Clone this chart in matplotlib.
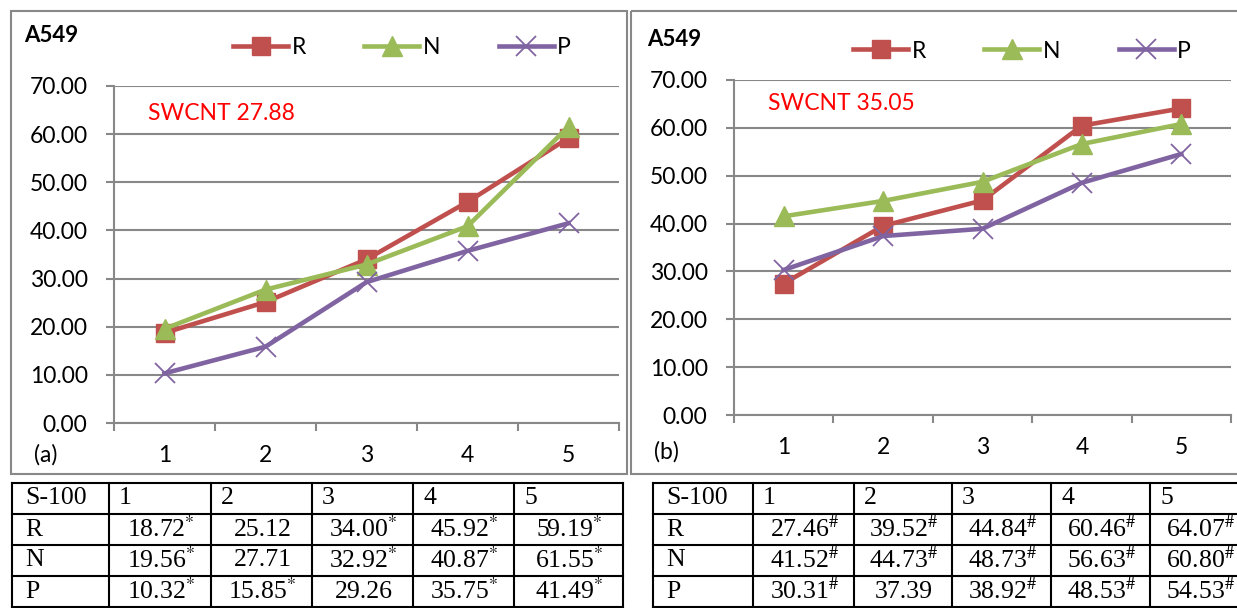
import matplotlib
matplotlib.use("Agg")
import matplotlib.pyplot as plt
from matplotlib.patches import Rectangle

plt.rcParams["font.family"] = ["Lato", "DejaVu Sans"]
plt.rcParams["mathtext.fontset"] = "stix"

# data
groups = ["1", "2", "3", "4", "5"]
series = ["R", "N", "P"]

a_R = [18.72, 25.12, 34.00, 45.92, 59.19]
a_N = [19.56, 27.71, 32.92, 40.87, 61.55]
a_P = [10.32, 15.85, 29.26, 35.75, 41.49]
a_R_sig = [1, 0, 1, 1, 1]
a_N_sig = [1, 0, 1, 1, 1]
a_P_sig = [1, 1, 0, 1, 1]

b_R = [27.46, 39.52, 44.84, 60.46, 64.07]
b_N = [41.52, 44.73, 48.73, 56.63, 60.80]
b_P = [30.31, 37.39, 38.92, 48.53, 54.53]
b_R_sig = [1, 1, 1, 1, 1]
b_N_sig = [1, 1, 1, 1, 1]
b_P_sig = [1, 0, 1, 1, 1]

swcnt_a = 27.88
swcnt_b = 35.05

colors = {"R": "#C0504D", "N": "#9BBB59", "P": "#8064A2"}
markers = {"R": "s", "N": "^", "P": "x"}
msize = {"R": 12.5, "N": 14, "P": 15}
GRID = "#888888"

W, H = 1237, 608
fig = plt.figure(figsize=(W / 100, H / 100), dpi=100)


def box(x0, y0, x1, y1):
    return [x0 / W, 1 - y1 / H, (x1 - x0) / W, (y1 - y0) / H]


def chart(rect, data, legend_x, legend_y):
    ax = fig.add_axes(rect)
    x = list(range(1, len(groups) + 1))
    handles = []
    for name, vals in zip(series, data):
        if name == "P":
            h, = ax.plot(x, vals, color=colors[name], lw=3.3, marker="x",
                         ms=msize[name], mew=1.3, zorder=3)
        else:
            h, = ax.plot(x, vals, color=colors[name], lw=3.3,
                         marker=markers[name], ms=msize[name],
                         mec=colors[name], zorder=3)
        handles.append(h)
    ax.set_xlim(0.5, len(groups) + 0.5)
    ax.set_ylim(0, 70)
    ax.set_yticks(range(0, 71, 10))
    ax.set_yticklabels([f"{v:.2f}" for v in range(0, 71, 10)])
    ax.set_xticks(x)
    ax.set_xticklabels(groups)
    ax.set_xticks([i + 0.5 for i in range(len(groups) + 1)], minor=True)
    ax.grid(axis="y", color=GRID, lw=1.5)
    ax.set_axisbelow(True)
    for s in ["top", "right"]:
        ax.spines[s].set_visible(False)
    for s in ["left", "bottom"]:
        ax.spines[s].set_color(GRID)
        ax.spines[s].set_linewidth(1.5)
    ax.tick_params(axis="y", length=6, width=1.5, color=GRID, pad=13,
                   labelsize=16.5)
    ax.tick_params(axis="x", which="major", length=0, pad=16, labelsize=16.5)
    ax.tick_params(axis="x", which="minor", length=6, width=1.5, color=GRID)
    fig.legend(handles, series, ncol=3, loc="center left",
               bbox_to_anchor=(legend_x / W, 1 - legend_y / H),
               frameon=False, fontsize=16.5, handlelength=2.4,
               handletextpad=0.15, columnspacing=2.55, borderpad=0,
               borderaxespad=0)
    return ax


chart(box(114, 86, 619, 423), [a_R, a_N, a_P], 233, 48)
chart(box(734, 80, 1231, 415), [b_R, b_N, b_P], 853, 51)

# overlay in pixel coordinates for frames, labels and tables
ov = fig.add_axes([0, 0, 1, 1], zorder=5)
ov.set_xlim(0, W)
ov.set_ylim(H, 0)
ov.axis("off")

ov.add_patch(Rectangle((11, 11), 616, 463, fill=False, ec=GRID, lw=1.5))
ov.add_patch(Rectangle((631, 11), 630, 463, fill=False, ec=GRID, lw=1.5))

ov.text(24, 36, "A549", fontsize=16, fontweight="bold", va="center")
ov.text(647, 40, "A549", fontsize=16, fontweight="bold", va="center")
ov.text(148, 114, f"SWCNT {swcnt_a:.2f}", fontsize=16.5, color="red", va="center")
ov.text(768, 104, f"SWCNT {swcnt_b:.2f}", fontsize=16.5, color="red", va="center")
ov.text(34, 455, "(a)", fontsize=16.5, va="center")
ov.text(654, 452, "(b)", fontsize=16.5, va="center")


def table(cols, rows_y, data, sigs, mark):
    lw = 1.5
    for cx in cols:
        ov.plot([cx, cx], [rows_y[0], rows_y[-1]], color="black", lw=lw,
                solid_capstyle="projecting")
    for ry in rows_y:
        ov.plot([cols[0], cols[-1]], [ry, ry], color="black", lw=lw,
                solid_capstyle="projecting")
    serif = "Liberation Serif"
    fs = 18.5
    yc = [(rows_y[i] + rows_y[i + 1]) / 2 for i in range(len(rows_y) - 1)]
    ov.text(cols[0] + 13, yc[0], "S-100", family=serif, fontsize=fs, va="center")
    for j, g in enumerate(groups):
        ov.text(cols[j + 1] + 10, yc[0], g, family=serif, fontsize=fs, va="center")
    for i, name in enumerate(series):
        ov.text(cols[0] + 13, yc[i + 1], name, family=serif, fontsize=fs, va="center")
        for j, v in enumerate(data[i]):
            s = f"{v:.2f}"
            if sigs[i][j]:
                s += r"$^{" + mark + "}$"
            ov.text((cols[j + 1] + cols[j + 2]) / 2 + 1, yc[i + 1], s,
                    family=serif, fontsize=fs, va="center", ha="center")


rows_y = [483, 514, 545, 576, 607]
table([12, 109, 211, 312, 413, 514, 623], rows_y,
      [a_R, a_N, a_P], [a_R_sig, a_N_sig, a_P_sig], "*")
table([653, 753, 854, 952, 1051, 1150, 1250], rows_y,
      [b_R, b_N, b_P], [b_R_sig, b_N_sig, b_P_sig], r"\#")

fig.savefig("out.png", dpi=100)
